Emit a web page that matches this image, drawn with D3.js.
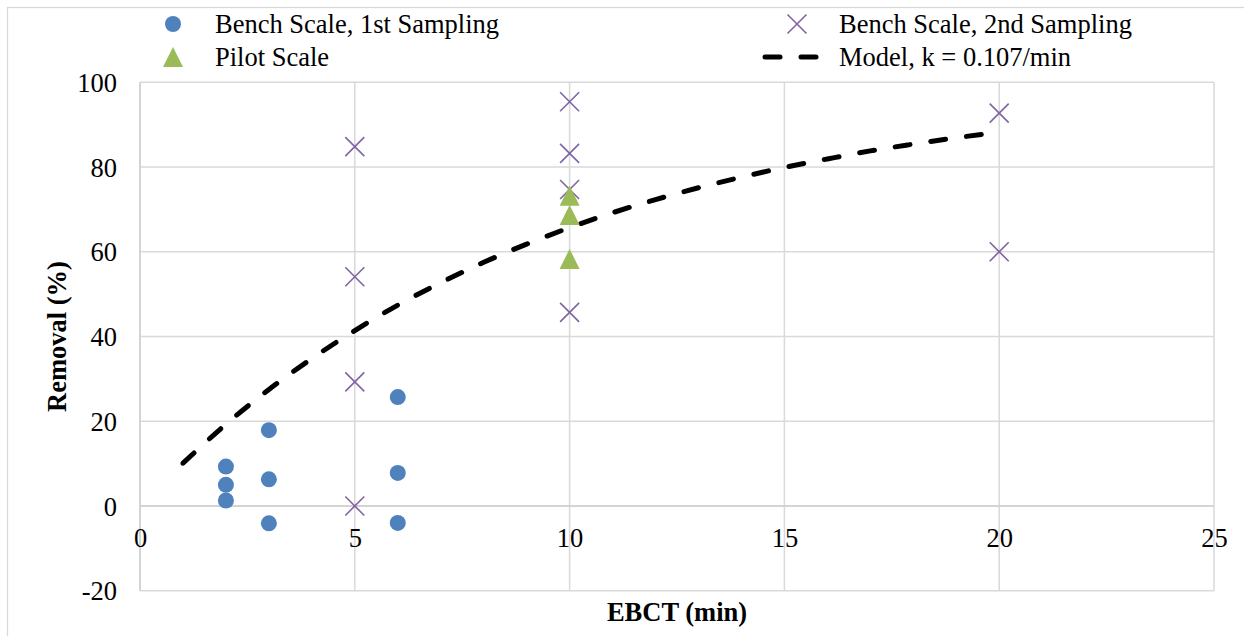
<!DOCTYPE html>
<html>
<head>
<meta charset="utf-8">
<script src="https://cdn.jsdelivr.net/npm/d3@7/dist/d3.min.js"></script>
<style>
  html, body { margin: 0; padding: 0; background: #fff; }
  svg { display: block; }
  text { font-family: "Liberation Serif", "Times New Roman", serif; fill: #000; }
</style>
</head>
<body>
<svg id="chart" width="1244" height="636"></svg>
<script>
// Bench scale, 1st sampling (EBCT in min, removal in %)
const bench1X = [2, 2, 2, 3, 3, 3, 6, 6, 6];
const bench1Y = [9.3, 5.0, 1.3, 17.9, 6.3, -4.1, 25.7, 7.8, -4.0];

// Bench scale, 2nd sampling
const bench2X = [5, 5, 5, 5, 10, 10, 10, 10, 20, 20];
const bench2Y = [84.8, 54.1, 29.3, 0, 95.4, 83.2, 74.7, 45.7, 92.7, 60.0];

// Pilot scale
const pilotX = [10, 10, 10];
const pilotY = [73.2, 68.7, 58.3];

// First-order model, k = 0.107/min
const modelX = [1, 2, 3, 4, 5, 6, 7, 8, 9, 10, 11, 12, 13, 14, 15, 16, 17, 18, 19, 20];
const modelY = [10.1, 19.3, 27.5, 34.8, 41.4, 47.4, 52.7, 57.5, 61.8, 65.7,
                69.2, 72.3, 75.1, 77.6, 79.9, 81.9, 83.8, 85.4, 86.9, 88.2];

const xTicks = [0, 5, 10, 15, 20, 25];
const yTicks = [-20, 0, 20, 40, 60, 80, 100];

const legendLabels = ["Bench Scale, 1st Sampling", "Pilot Scale",
                      "Bench Scale, 2nd Sampling", "Model, k = 0.107/min"];

const colors = { bench1: "#4f81bd", bench2: "#8064a2", pilot: "#9bbb59", model: "#000" };

const svg = d3.select("#chart");
const W = 1244, H = 636;
const plot = { left: 140, right: 1214, top: 82.25, bottom: 590.75 };
const serif = '"Liberation Serif", "Times New Roman", serif';

const x = d3.scaleLinear().domain([0, 25]).range([plot.left, plot.right]);
const y = d3.scaleLinear().domain([-20, 100]).range([plot.bottom, plot.top]);

// chart frame
svg.append("rect")
  .attr("x", 7.5).attr("y", 7.5)
  .attr("width", W + 10).attr("height", H + 10)
  .attr("fill", "#fff").attr("stroke", "#d9d9d9").attr("stroke-width", 1.3);

const grid = "#d9d9d9";

// vertical gridlines
svg.append("g")
  .selectAll("line").data(xTicks).join("line")
  .attr("x1", d => x(d)).attr("x2", d => x(d))
  .attr("y1", plot.top).attr("y2", plot.bottom)
  .attr("stroke", grid).attr("stroke-width", 1.5);

// horizontal gridlines
svg.append("g")
  .selectAll("line").data(yTicks).join("line")
  .attr("x1", plot.left).attr("x2", plot.right)
  .attr("y1", d => y(d)).attr("y2", d => y(d))
  .attr("stroke", grid).attr("stroke-width", 1.5);

// axis lines through the origin
svg.append("line")
  .attr("x1", plot.left).attr("x2", plot.right)
  .attr("y1", y(0)).attr("y2", y(0))
  .attr("stroke", "#cfcfcf").attr("stroke-width", 1.5);
svg.append("line")
  .attr("x1", x(0)).attr("x2", x(0))
  .attr("y1", plot.top).attr("y2", plot.bottom)
  .attr("stroke", "#cfcfcf").attr("stroke-width", 1.5);

const fmt = d => String(d);

// y tick labels
const yAxis = d3.axisLeft(y).tickValues(yTicks).tickFormat(fmt).tickSize(0).tickPadding(0);
const gy = svg.append("g").attr("transform", `translate(117,0)`).call(yAxis);
gy.attr("font-family", null).attr("font-size", null);
gy.select(".domain").remove();
gy.selectAll("text")
  .style("font-family", serif).style("font-size", "26.5px").attr("fill", "#000")
  .attr("dy", "0.34em");

// x tick labels, sitting just below the zero line
const xAxis = d3.axisBottom(x).tickValues(xTicks).tickFormat(fmt).tickSize(0).tickPadding(0);
const gx = svg.append("g").attr("transform", `translate(0,${y(0) + 32})`).call(xAxis);
gx.attr("font-family", null).attr("font-size", null);
gx.select(".domain").remove();
gx.selectAll("text")
  .style("font-family", serif).style("font-size", "26.5px").attr("fill", "#000")
  .attr("dy", "0.34em");

// axis titles
svg.append("text")
  .attr("x", (plot.left + plot.right) / 2).attr("y", 621)
  .attr("text-anchor", "middle")
  .attr("font-size", 26.5).attr("font-weight", "bold")
  .text("EBCT (min)");
svg.append("text")
  .attr("transform", `translate(57,${(plot.top + plot.bottom) / 2}) rotate(-90)`)
  .attr("text-anchor", "middle").attr("dy", "0.34em")
  .attr("font-size", 26.5).attr("font-weight", "bold")
  .text("Removal (%)");

// model curve (dashed)
const modelPts = modelX.map((d, i) => [d, modelY[i]]);
svg.append("path")
  .datum(modelPts)
  .attr("d", d3.line().x(d => x(d[0])).y(d => y(d[1])).curve(d3.curveMonotoneX))
  .attr("fill", "none").attr("stroke", colors.model)
  .attr("stroke-width", 5).attr("stroke-linecap", "round")
  .attr("stroke-dasharray", "15 21");

// marker shapes
const crossPath = s => `M${-s},${-s}L${s},${s}M${-s},${s}L${s},${-s}`;
const triPath = s => `M0,${-s}L${s},${s}L${-s},${s}Z`;

// bench scale, 2nd sampling
svg.append("g")
  .selectAll("path").data(bench2X.map((d, i) => [d, bench2Y[i]])).join("path")
  .attr("transform", d => `translate(${x(d[0])},${y(d[1])})`)
  .attr("d", crossPath(9.5))
  .attr("fill", "none").attr("stroke", colors.bench2).attr("stroke-width", 1.6);

// pilot scale
svg.append("g")
  .selectAll("path").data(pilotX.map((d, i) => [d, pilotY[i]])).join("path")
  .attr("transform", d => `translate(${x(d[0])},${y(d[1])})`)
  .attr("d", triPath(10))
  .attr("fill", colors.pilot);

// bench scale, 1st sampling
svg.append("g")
  .selectAll("circle").data(bench1X.map((d, i) => [d, bench1Y[i]])).join("circle")
  .attr("cx", d => x(d[0])).attr("cy", d => y(d[1]))
  .attr("r", 8).attr("fill", colors.bench1);

// legend
const lg = svg.append("g");
lg.append("circle").attr("cx", 173).attr("cy", 24).attr("r", 8).attr("fill", colors.bench1);
lg.append("path").attr("transform", "translate(173,57)").attr("d", triPath(10)).attr("fill", colors.pilot);
lg.append("path").attr("transform", "translate(797,24)").attr("d", crossPath(9.5))
  .attr("fill", "none").attr("stroke", colors.bench2).attr("stroke-width", 1.6);
lg.append("line").attr("x1", 765).attr("x2", 818).attr("y1", 57).attr("y2", 57)
  .attr("stroke", colors.model).attr("stroke-width", 5).attr("stroke-linecap", "round")
  .attr("stroke-dasharray", "15 21");

const legendPos = [[215, 24], [215, 57], [839, 24], [839, 57]];
lg.selectAll("text.leg").data(legendLabels).join("text")
  .attr("class", "leg")
  .attr("x", (d, i) => legendPos[i][0]).attr("y", (d, i) => legendPos[i][1])
  .attr("dy", "0.34em").attr("font-size", 26.5)
  .text(d => d);
</script>
</body>
</html>
